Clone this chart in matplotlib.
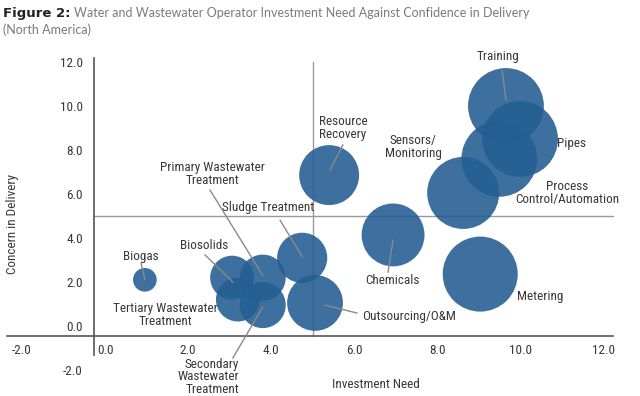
import matplotlib
matplotlib.use("Agg")
import matplotlib.pyplot as plt

# ---- data ----
names = ["Biogas", "Biosolids", "Primary Wastewater\nTreatment", "Tertiary Wastewater\nTreatment",
         "Secondary\nWastewater\nTreatment", "Sludge Treatment", "Outsourcing/O&M",
         "Resource\nRecovery", "Chemicals", "Metering", "Process\nControl/Automation",
         "Sensors/\nMonitoring", "Pipes", "Training"]
investment = [0.96, 3.06, 3.8, 3.2, 3.8, 4.75, 5.06, 5.4, 6.94, 9.04, 8.63, 9.5, 10.0, 9.66]
concern = [2.1, 2.2, 2.2, 1.2, 0.95, 3.1, 1.05, 6.86, 4.14, 2.36, 6.05, 7.6, 8.5, 10.0]
bubble = [1.4, 4.8, 5.3, 4.8, 5.3, 6.3, 7.8, 9.0, 9.9, 14.1, 13.0, 14.4, 14.4, 14.4]

# label placement: (x, y, ha)
label_pos = {
    "Biogas": (0.87, 3.18, "center"),
    "Biosolids": (2.39, 3.68, "center"),
    "Primary Wastewater\nTreatment": (2.58, 6.9, "center"),
    "Tertiary Wastewater\nTreatment": (1.45, 0.5, "center"),
    "Secondary\nWastewater\nTreatment": (3.23, -2.3, "right"),
    "Sludge Treatment": (3.93, 5.4, "center"),
    "Outsourcing/O&M": (6.19, 0.45, "left"),
    "Resource\nRecovery": (5.73, 9.0, "center"),
    "Chemicals": (6.92, 2.09, "center"),
    "Metering": (10.48, 1.32, "center"),
    "Process\nControl/Automation": (11.13, 6.05, "center"),
    "Sensors/\nMonitoring": (7.42, 8.14, "center"),
    "Pipes": (11.25, 8.3, "center"),
    "Training": (9.47, 12.27, "center"),
}
leaders = [
    ((9.57, 11.6), (9.66, 10.3)),
    ((5.73, 8.23), (5.42, 7.09)),
    ((2.53, 6.18), (3.8, 2.3)),
    ((4.22, 4.8), (4.75, 3.15)),
    ((0.87, 2.86), (0.96, 2.1)),
    ((2.41, 3.23), (3.08, 2.0)),
    ((3.08, -1.45), (3.8, 0.86)),
    ((6.82, 2.45), (6.94, 3.9)),
    ((5.3, 0.95), (6.07, 0.59)),
]
ticks = [-2, 0, 2, 4, 6, 8, 10, 12]

cond = dict(family=["Roboto Condensed", "DejaVu Sans"])
text_col = "#383838"
bubble_col = "#255e92"

fig = plt.figure(figsize=(6.4, 3.96), dpi=100)
ax = fig.add_axes([0.002, 0.0323, 0.9727, 0.8444])
ax.set_xlim(-2.5, 12.5)
ax.set_ylim(-2.6, 12.6)

# quadrant dividers
ax.plot([5.0, 5.0], [-0.45, 12.0], color="#9a9a9a", lw=1.0, zorder=1)
ax.plot([-0.27, 12.24], [5.0, 5.0], color="#9a9a9a", lw=1.0, zorder=1)

ax.scatter(investment, concern, s=[207 * b for b in bubble], color=bubble_col,
           alpha=0.89, linewidths=0, zorder=2)

for a, b in leaders:
    ax.plot([a[0], b[0]], [a[1], b[1]], color="#8a8a8a", lw=1.0, zorder=3)

for n in names:
    x, y, ha = label_pos[n]
    ax.text(x, y, n, ha=ha, va="center", fontsize=9.5, color=text_col,
            linespacing=0.95, zorder=4, **cond)

# axes styling
for s in ["top", "right"]:
    ax.spines[s].set_visible(False)
ax.spines["left"].set_position(("data", -0.27))
ax.spines["left"].set_bounds(-1.3, 12.2)
ax.spines["bottom"].set_position(("data", -0.45))
ax.spines["bottom"].set_bounds(-2.36, 12.24)
for s in ["left", "bottom"]:
    ax.spines[s].set_color("#555555")
    ax.spines[s].set_linewidth(1.2)
ax.set_xticks(ticks)
ax.set_yticks(ticks)
ax.set_xticklabels(["%.1f" % t for t in ticks], fontsize=9.5, color=text_col, **cond)
ax.set_yticklabels(["%.1f" % t for t in ticks], fontsize=9.5, color=text_col, **cond)
ax.tick_params(axis="x", length=0, pad=6)
ax.tick_params(axis="y", length=0, pad=8)
ax.patch.set_visible(False)

fig.text(0.019, 0.434, "Concern in Delivery", rotation=90, ha="center", va="center",
         fontsize=9.5, color=text_col, **cond)
fig.text(0.588, 0.028, "Investment Need", ha="center", va="center",
         fontsize=9.5, color=text_col, **cond)

# title
t1 = fig.text(0.005, 0.958, "Figure 2:", fontsize=9.5, fontweight="bold",
              color="#222222", family="DejaVu Sans", va="baseline")
fig.canvas.draw()
bb = t1.get_window_extent()
fig.text(bb.x1 / fig.bbox.width + 0.005, 0.958,
         "Water and Wastewater Operator Investment Need Against Confidence in Delivery",
         fontsize=9.0, color="#7a7a7a", family="Lato", fontweight="normal", va="baseline")
fig.text(0.005, 0.915, "(North America)", fontsize=9.0, color="#7a7a7a",
         family="Lato", fontweight="normal", va="baseline")

fig.savefig("out.png", dpi=100)
